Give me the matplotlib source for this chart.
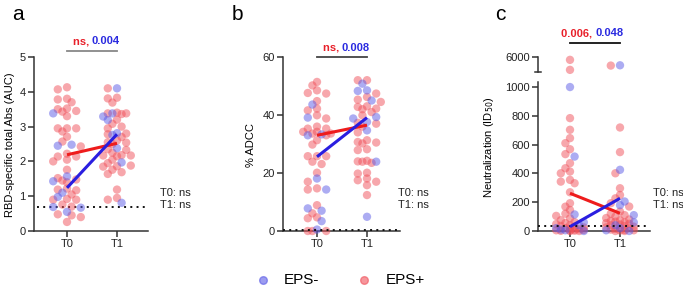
import numpy as np
import matplotlib
matplotlib.use("Agg")
import matplotlib.pyplot as plt
from matplotlib.lines import Line2D

plt.rcParams['font.family'] = ['Liberation Sans', 'DejaVu Sans']

# ---- data ----
times = ['T0', 'T1']

# panel a: RBD-specific total Abs (AUC)
a_red_t0 = [4.07, 4.13, 3.8, 3.7, 3.78, 3.43, 3.45, 3.5, 3.52, 3.3, 2.95, 2.95, 2.86, 2.95, 2.71,
            2.57, 2.43, 2.14, 2.22, 2.05, 2.14, 1.76, 1.48, 1.52, 1.45, 1.19, 1.17, 1.40, 1.22,
            0.9, 0.9, 0.92, 0.76, 0.7, 0.48, 0.45, 0.4, 0.26, 1.05, 2.0]
a_blue_t0 = [3.38, 2.48, 2.45, 1.57, 1.43, 1.1, 0.98, 0.69, 0.67, 0.55]
a_red_t1 = [4.1, 3.81, 3.69, 3.83, 3.38, 3.4, 3.36, 3.38, 3.2, 3.08, 2.95, 2.8, 2.78, 2.6, 2.54,
            2.55, 2.5, 2.33, 2.35, 2.17, 2.15, 2.17, 2.18, 2.05, 1.95, 1.86, 1.88, 1.85, 1.69,
            1.76, 1.64, 1.19, 0.9, 0.95, 3.0, 2.7, 2.25]
a_blue_t1 = [4.1, 3.19, 3.38, 3.29, 2.76, 2.81, 2.38, 1.97, 0.81]
a_red_line = [2.19, 2.52]
a_blue_line = [1.24, 2.78]

# panel b: % ADCC
b_red_t0 = [51.4, 50.2, 48.5, 47.4, 47.6, 44.8, 42.2, 41.6, 38.8, 39.9, 35.3, 35.3, 33.6, 34.2,
            34.2, 33.6, 31.3, 29.8, 25.8, 25.8, 25.8, 23.9, 23.1, 20.1, 17, 14.3, 14.7, 8.9,
            6.1, 4.4, 4.7, 0, 0, 0, 36, 33]
b_blue_t0 = [43.6, 39.1, 33, 33.3, 18.1, 14.3, 7, 7.8, 3.4, 0.5]
b_red_t1 = [52, 52, 46.2, 47.4, 45.3, 44.5, 42.2, 42, 42.8, 43, 39.9, 41, 37, 37.3, 30.7, 30.2,
            31.3, 30.5, 28.2, 27.9, 23.5, 23.9, 24, 24.2, 19.8, 20.1, 18.1, 17, 17.5, 15.8,
            12.4, 36, 34]
b_blue_t1 = [50.8, 48.3, 48.5, 45, 39.3, 38.8, 37.6, 34.7, 23.9, 4.9]
b_red_line = [33, 36.5]
b_blue_line = [25.6, 39.1]

# panel c: Neutralization (ID50)
c_red_t0 = [5800, 5100, 784, 703, 645, 610, 568, 534, 471, 436, 413, 401, 355, 343, 332, 269,
            193, 169, 146, 120, 105, 88, 75, 62, 55, 48, 40, 35, 30, 25, 20, 15, 10, 8, 5, 3,
            2, 1, 0, 0, 12]
c_blue_t0 = [1000, 517, 115, 40, 20, 10, 5, 0, 60]
c_red_t1 = [5400, 719, 548, 401, 297, 250, 227, 193, 170, 135, 120, 100, 90, 80, 70, 65, 60,
            55, 50, 45, 40, 35, 30, 25, 20, 15, 10, 8, 5, 3, 0, 0, 110, 75]
c_blue_t1 = [5420, 425, 205, 180, 110, 60, 40, 20, 5, 0]
c_red_line = [262, 123]
c_blue_line = [30, 227]

RED = '#f0505a'
BLUE = '#5a5ae6'
RED_LINE = '#ee1c1c'
BLUE_LINE = '#2a1ee0'
AX_COL = '#333333'
FS = 8

fig = plt.figure(figsize=(6.83, 2.88), dpi=100)


def px(y):
    return 1 - y / 288.0


def style(ax, bottom=True):
    for s in ['top', 'right']:
        ax.spines[s].set_visible(False)
    ax.spines['left'].set_color(AX_COL)
    ax.spines['left'].set_linewidth(1.1)
    ax.spines['bottom'].set_color(AX_COL)
    ax.spines['bottom'].set_linewidth(1.1)
    ax.tick_params(axis='both', direction='out', length=4, width=1.1, color=AX_COL,
                   labelsize=FS, pad=2, labelcolor='#222222')
    ax.set_xticks([0, 1])
    ax.set_xticklabels(times)
    if not bottom:
        ax.spines['bottom'].set_visible(False)
        ax.tick_params(axis='x', bottom=False, labelbottom=False)


def swarm(ax, xc, vals, cols, diam=7.0, step=4.6, kmax=3):
    # columns of points, like the prism scatter: fixed slots around the centre
    order = np.argsort(vals)[::-1]
    ppu = ax.transData.transform((xc + 1, 0))[0] - ax.transData.transform((xc, 0))[0]
    slots = [0]
    for k in range(1, kmax + 1):
        slots += [-k, k]
    placed = []
    out = []
    for i in order:
        yd = ax.transData.transform((xc, vals[i]))[1]
        best, best_d = None, -1
        for k in slots:
            dx = k * step
            dmin = min([np.hypot(dx - p, yd - q) for p, q in placed] + [1e9])
            if dmin >= 0.8 * diam:
                best = dx
                break
            if dmin > best_d + 0.5:
                best, best_d = dx, dmin
        placed.append((best, yd))
        out.append((xc + best / ppu, vals[i], cols[i]))
    for c in [RED, BLUE]:
        pts = [(x, y) for x, y, cc in out if cc == c]
        if pts:
            xs, ys = zip(*pts)
            ax.scatter(xs, ys, s=36, color=c, alpha=0.5, edgecolors='none',
                       clip_on=False, zorder=3)


def panel_points(ax, red0, blue0, red1, blue1):
    for xc, r, b in [(0, red0, blue0), (1, red1, blue1)]:
        vals = list(r) + list(b)
        cols = [RED] * len(r) + [BLUE] * len(b)
        swarm(ax, xc, vals, cols)


def lines(ax, red_line, blue_line):
    ax.plot([0, 1], red_line, color=RED_LINE, lw=2.2, zorder=5, solid_capstyle='butt')
    ax.plot([0, 1], blue_line, color=BLUE_LINE, lw=2.2, zorder=5, solid_capstyle='butt')


def stat_label(x0, x1, ytxt, yline, red_txt, blue_txt, lcol):
    xm = (x0 + x1) / 2 / 683.0
    fig.text(xm, px(ytxt), red_txt + ', ', color='#e8202a', fontsize=FS,
             fontweight='bold', ha='right', va='center')
    fig.text(xm, px(ytxt), blue_txt, color='#2a2ae0', fontsize=FS,
             fontweight='bold', ha='left', va='center')
    fig.add_artist(Line2D([x0 / 683.0, x1 / 683.0], [px(yline), px(yline)],
                          color=lcol, lw=1.3))


def ns_text(x, y):
    fig.text(x / 683.0, px(y), 'T0: ns\nT1: ns', fontsize=FS, ha='left', va='center',
             linespacing=1.15, color='#222222')


def ylab(x, y, s):
    fig.text(x / 683.0, px(y), s, fontsize=FS, rotation=90, ha='center', va='center')


# ---- panel a ----
axa = fig.add_axes([34 / 683, px(231), 114 / 683, px(57) - px(231)])
axa.set_xlim(-0.66, 1.62)
axa.set_ylim(0, 5)
axa.set_yticks(range(0, 6))
style(axa)
panel_points(axa, a_red_t0, a_blue_t0, a_red_t1, a_blue_t1)
lines(axa, a_red_line, a_blue_line)
axa.axhline(0.7, xmin=0.03, xmax=1.0, color='#111111', lw=1.4, ls=(0, (1, 2.2)), zorder=2)
ylab(10, 145, 'RBD-specific total Abs (AUC)')
stat_label(67, 117, 41, 51, 'ns', '0.004', '#888888')
ns_text(160, 199)
fig.text(12 / 683, px(14), 'a', fontsize=15, ha='left', va='center')

# ---- panel b ----
axb = fig.add_axes([283 / 683, px(231), 117 / 683, px(57) - px(231)])
axb.set_xlim(-0.68, 1.66)
axb.set_ylim(0, 60)
axb.set_yticks([0, 20, 40, 60])
style(axb)
panel_points(axb, b_red_t0, b_blue_t0, b_red_t1, b_blue_t1)
lines(axb, b_red_line, b_blue_line)
axb.axhline(0.3, color='#111111', lw=1.4, ls=(0, (1, 2.2)), zorder=4, clip_on=False)
ylab(251, 145, '% ADCC')
stat_label(317, 367, 48, 57, 'ns', '0.008', '#444444')
ns_text(398, 199)
fig.text(232 / 683, px(14), 'b', fontsize=15, ha='left', va='center')

# ---- panel c (broken axis) ----
axc = fig.add_axes([538 / 683, px(231), 112 / 683, px(82) - px(231)])
axc.set_xlim(-0.64, 1.6)
axc.set_ylim(0, 1035)
axc.set_yticks([0, 200, 400, 600, 800, 1000])
style(axc)
axc_up = fig.add_axes([538 / 683, px(72), 112 / 683, px(57) - px(72)])
axc_up.set_xlim(-0.64, 1.6)
axc_up.set_ylim(4950, 6000)
axc_up.set_yticks([6000])
style(axc_up, bottom=False)
axc_up.patch.set_visible(False)
# cap tick at the bottom of the upper segment
axc_up.plot([-0.64 - 0.06, -0.64 + 0.06], [4950, 4950], color=AX_COL, lw=1.1, clip_on=False)

lo = lambda v: [x for x in v if x < 2000]
hi = lambda v: [x for x in v if x >= 2000]
panel_points(axc, lo(c_red_t0), lo(c_blue_t0), lo(c_red_t1), lo(c_blue_t1))
panel_points(axc_up, hi(c_red_t0), hi(c_blue_t0), hi(c_red_t1), hi(c_blue_t1))
lines(axc, c_red_line, c_blue_line)
axc.axhline(37, color='#111111', lw=1.4, ls=(0, (1, 2.2)), zorder=4)
ylab(489, 147, 'Neutralization (ID$_{50}$)')
stat_label(570, 620, 33, 43, '0.006', '0.048', '#111111')
ns_text(653, 199)
fig.text(495 / 683, px(14), 'c', fontsize=15, ha='left', va='center')

# ---- legend ----
fig.add_artist(Line2D([263 / 683], [px(280)], marker='o', ms=5.5, color=BLUE, alpha=0.6, lw=0))
fig.text(284 / 683, px(280), 'EPS-', fontsize=11, ha='left', va='center')
fig.add_artist(Line2D([364 / 683], [px(280)], marker='o', ms=5.5, color=RED, alpha=0.6, lw=0))
fig.text(386 / 683, px(280), 'EPS+', fontsize=11, ha='left', va='center')

fig.savefig('out.png', dpi=100)
